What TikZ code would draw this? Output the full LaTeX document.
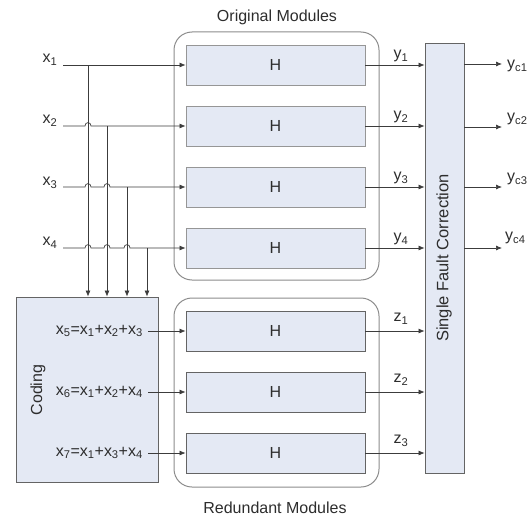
\documentclass[tikz,border=0pt]{standalone}
\usepackage{fontspec}
\setmainfont{Liberation Sans}
\usetikzlibrary{arrows.meta}
\definecolor{boxfill}{RGB}{228,233,244}
\definecolor{edge}{RGB}{100,100,100}
\definecolor{edgelight}{RGB}{150,150,150}
\definecolor{grp}{RGB}{140,140,140}
\definecolor{txt}{RGB}{45,45,45}
\definecolor{wirec}{RGB}{60,60,60}
\begin{document}
\begin{tikzpicture}[x=1pt,y=-1pt,
  font=\fontsize{16}{18}\selectfont, text=txt,
  hbox/.style={draw=edge, fill=boxfill, line width=0.8pt, minimum width=179pt, minimum height=40pt, inner sep=0pt},
  hboxlight/.style={hbox, draw=edgelight},
  group/.style={draw=grp, rounded corners=18pt, line width=1pt, inner sep=0pt},
  bigbox/.style={draw=edge, fill=boxfill, line width=0.8pt, inner sep=0pt},
  arr/.style={-{Latex[length=6pt,width=5pt]}, draw=wirec, line width=0.7pt},
  lbl/.style={inner sep=0pt}]
\useasboundingbox (0,0) rectangle (532,519);

% groups
\node[group, minimum width=205pt, minimum height=248pt] (orig) at (276.5,156) {};
\node[group, minimum width=205pt, minimum height=189pt] (red) at (276.5,392.5) {};
\node[lbl] (origlbl) at (277,17) {Original Modules};
\node[lbl] (redlbl) at (275,508) {Redundant Modules};

% H boxes
\node[hboxlight] (h1) at (275.5,65) {H};
\node[hboxlight] (h2) at (275.5,126) {H};
\node[hboxlight] (h3) at (275.5,187) {H};
\node[hboxlight] (h4) at (275.5,248) {H};
\node[hbox] (h5) at (275.5,331) {H};
\node[hbox] (h6) at (275.5,392) {H};
\node[hbox] (h7) at (275.5,453) {H};

% coding and correction
\node[bigbox, minimum width=142pt, minimum height=185pt] (coding) at (87,389.5) {};
\node[lbl, rotate=90] (codinglbl) at (38,390) {Coding};
\node[bigbox, minimum width=39pt, minimum height=430pt] (sfc) at (444.5,258) {};
\node[lbl, rotate=90, font=\fontsize{16.5}{18}\selectfont] (sfclbl) at (444,258) {Single Fault Correction};

% inputs
\node[lbl] (x1) at (50,60) {x\textsubscript{1}};
\node[lbl] (x2) at (50,121) {x\textsubscript{2}};
\node[lbl] (x3) at (50,183) {x\textsubscript{3}};
\node[lbl] (x4) at (50,243) {x\textsubscript{4}};
\coordinate (in1) at (63,65);
\coordinate (in2) at (63,126);
\coordinate (in3) at (63,187);
\coordinate (in4) at (63,248);
\coordinate (v1) at (88,65);
\coordinate (v2) at (107,126);
\coordinate (v3) at (127,187);
\coordinate (v4) at (147,248);

\draw[arr] (v1) -- (v1 |- coding.north);
\draw[arr] (v2) -- (v2 |- coding.north);
\draw[arr] (v3) -- (v3 |- coding.north);
\draw[arr] (v4) -- (v4 |- coding.north);

\draw[arr] (in1) -- (h1.west);
\draw[arr] (in2) -- (85,126) .. controls (85,121.5) and (91,121.5) .. (91,126) -- (h2.west);
\draw[arr] (in3) -- (85,187) .. controls (85,182.5) and (91,182.5) .. (91,187)
  -- (104,187) .. controls (104,182.5) and (110,182.5) .. (110,187) -- (h3.west);
\draw[arr] (in4) -- (85,248) .. controls (85,243.5) and (91,243.5) .. (91,248)
  -- (104,248) .. controls (104,243.5) and (110,243.5) .. (110,248)
  -- (124,248) .. controls (124,243.5) and (130,243.5) .. (130,248) -- (h4.west);

% coded inputs
\node[lbl, anchor=east] (e5) at (143,331) {x\textsubscript{5}=x\textsubscript{1}+x\textsubscript{2}+x\textsubscript{3}};
\node[lbl, anchor=east] (e6) at (143,392) {x\textsubscript{6}=x\textsubscript{1}+x\textsubscript{2}+x\textsubscript{4}};
\node[lbl, anchor=east] (e7) at (143,453) {x\textsubscript{7}=x\textsubscript{1}+x\textsubscript{3}+x\textsubscript{4}};
\draw[arr] ([xshift=5pt]e5.east) -- (h5.west);
\draw[arr] ([xshift=5pt]e6.east) -- (h6.west);
\draw[arr] ([xshift=5pt]e7.east) -- (h7.west);

% module outputs
\draw[arr] (h1.east) -- (h1.east -| sfc.west);
\draw[arr] (h2.east) -- (h2.east -| sfc.west);
\draw[arr] (h3.east) -- (h3.east -| sfc.west);
\draw[arr] (h4.east) -- (h4.east -| sfc.west);
\draw[arr] (h5.east) -- (h5.east -| sfc.west);
\draw[arr] (h6.east) -- (h6.east -| sfc.west);
\draw[arr] (h7.east) -- (h7.east -| sfc.west);
\node[lbl] (y1) at (401,56) {y\textsubscript{1}};
\node[lbl] (y2) at (401,117) {y\textsubscript{2}};
\node[lbl] (y3) at (401,178) {y\textsubscript{3}};
\node[lbl] (y4) at (401,239) {y\textsubscript{4}};
\node[lbl] (z1) at (401,319) {z\textsubscript{1}};
\node[lbl] (z2) at (401,380) {z\textsubscript{2}};
\node[lbl] (z3) at (401,441) {z\textsubscript{3}};

% corrected outputs
\coordinate (o1) at (502,64);
\coordinate (o2) at (502,127);
\coordinate (o3) at (502,187);
\coordinate (o4) at (502,248);
\draw[arr] (o1 -| sfc.east) -- (o1);
\draw[arr] (o2 -| sfc.east) -- (o2);
\draw[arr] (o3 -| sfc.east) -- (o3);
\draw[arr] (o4 -| sfc.east) -- (o4);
\node[lbl, anchor=west] (yc1) at (507,66) {y\textsubscript{c1}};
\node[lbl, anchor=west] (yc2) at (507,119) {y\textsubscript{c2}};
\node[lbl, anchor=west] (yc3) at (507,179) {y\textsubscript{c3}};
\node[lbl, anchor=west] (yc4) at (505,238) {y\textsubscript{c4}};
\end{tikzpicture}
\end{document}
